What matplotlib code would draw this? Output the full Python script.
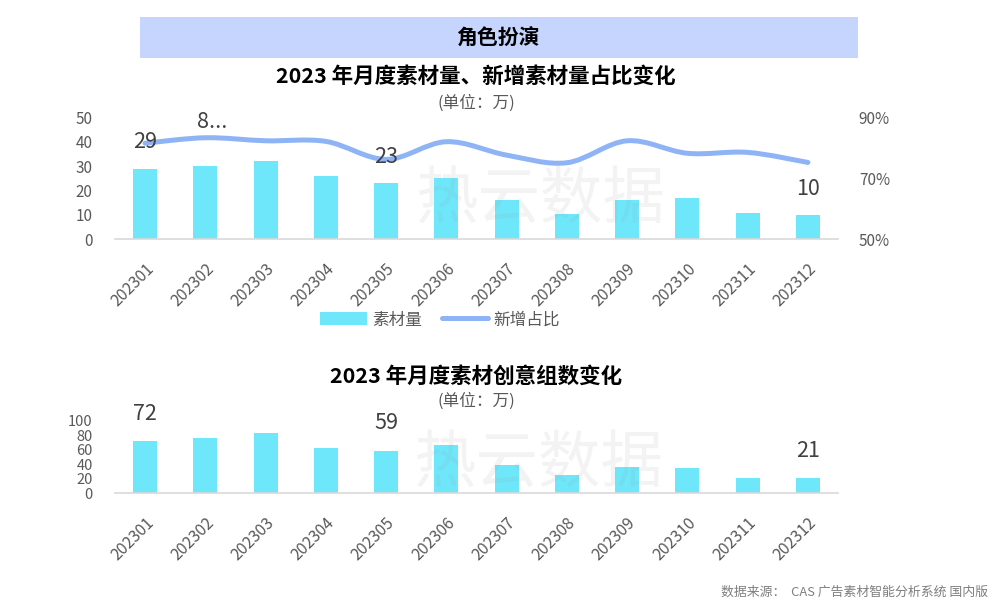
import matplotlib
matplotlib.use("Agg")
import matplotlib.pyplot as plt
import numpy as np
from matplotlib.path import Path
from matplotlib.patches import PathPatch, Rectangle
from matplotlib.lines import Line2D
from matplotlib.patches import Patch

plt.rcParams['font.family'] = ['Noto Sans CJK SC', 'DejaVu Sans']

months = ["202301", "202302", "202303", "202304", "202305", "202306",
          "202307", "202308", "202309", "202310", "202311", "202312"]
material = [29, 30, 32, 26, 23, 25, 16, 10.5, 16.3, 16.8, 10.7, 10]
new_share = [0.815, 0.833, 0.823, 0.821, 0.762, 0.820, 0.776, 0.751, 0.823, 0.782, 0.785, 0.752]
creative_groups = [72, 76, 83, 62.5, 59, 66, 39, 25, 36, 35, 21, 21]

BAR = "#6FE7FA"
LINE = "#8FB4F5"
TICK = "#595959"
W, H = 994, 614

fig = plt.figure(figsize=(W / 100, H / 100), dpi=100)


def fx(x):
    return x / W


def fy(y):
    return 1 - y / H


# banner
fig.patches.append(Rectangle((fx(140), fy(58)), fx(858) - fx(140), fy(17) - fy(58),
                             transform=fig.transFigure, facecolor="#C5D5FD", edgecolor="none", zorder=0))
fig.text(fx(498), fy(38), "角色扮演", ha="center", va="center", fontsize=15, fontweight="bold", color="#000000")
fig.text(fx(476), fy(76), "2023 年月度素材量、新增素材量占比变化", ha="center", va="center",
         fontsize=15.5, fontweight="bold", color="#000000")
fig.text(fx(476), fy(103), "(单位：万)", ha="center", va="center", fontsize=12, color=TICK)
fig.text(fx(476), fy(376), "2023 年月度素材创意组数变化", ha="center", va="center",
         fontsize=15.5, fontweight="bold", color="#000000")
fig.text(fx(476), fy(401), "(单位：万)", ha="center", va="center", fontsize=12, color=TICK)
fig.text(fx(988), fy(592), "数据来源：  CAS 广告素材智能分析系统 国内版", ha="right", va="center",
         fontsize=9.3, color="#7F7F7F")

# watermarks
for cx, cy in [(540, 201), (538, 465)]:
    fig.text(fx(cx), fy(cy), "热云数据", ha="center", va="center", fontsize=45,
             color="#9a9a9a", alpha=0.11, zorder=10)

x = np.arange(len(months))


def style_axis(ax):
    for s in ["top", "right", "left"]:
        ax.spines[s].set_visible(False)
    ax.spines["bottom"].set_color("#D9D9D9")
    ax.spines["bottom"].set_linewidth(1.2)
    ax.tick_params(axis="both", length=0, colors=TICK, labelsize=11)
    ax.set_xlim(-0.5, len(months) - 0.5)
    ax.set_xticks(x)
    ax.set_xticklabels(months, rotation=45, ha="right", rotation_mode="anchor")
    ax.tick_params(axis="x", pad=15, labelsize=11.5)
    ax.tick_params(axis="y", pad=16)
    ax.patch.set_alpha(0)


# ---- top chart
ax1 = fig.add_axes([fx(115), fy(239.3), fx(838) - fx(115), fy(117.3) - fy(239.3)])
ax1.bar(x, material, width=0.4, color=BAR, zorder=2)
ax1.set_ylim(0, 50)
ax1.set_yticks([0, 10, 20, 30, 40, 50])
style_axis(ax1)

ax2 = ax1.twinx()
ax2.set_ylim(0.5, 0.9)
ax2.set_yticks([0.5, 0.7, 0.9])
ax2.set_yticklabels(["50%", "70%", "90%"])
for s in ["top", "right", "left", "bottom"]:
    ax2.spines[s].set_visible(False)
ax2.tick_params(axis="y", length=0, colors=TICK, labelsize=11, pad=15)

# smooth line via Catmull-Rom -> cubic Bezier
pts = np.column_stack([x, new_share])
verts = [tuple(pts[0])]
codes = [Path.MOVETO]
for i in range(len(pts) - 1):
    p0 = pts[i - 1] if i > 0 else pts[i]
    p1 = pts[i]
    p2 = pts[i + 1]
    p3 = pts[i + 2] if i + 2 < len(pts) else pts[i + 1]
    c1 = p1 + (p2 - p0) / 6.0
    c2 = p2 - (p3 - p1) / 6.0
    verts += [tuple(c1), tuple(c2), tuple(p2)]
    codes += [Path.CURVE4] * 3
ax2.add_patch(PathPatch(Path(verts, codes), facecolor="none", edgecolor=LINE, lw=3.6,
                        capstyle="round", zorder=3))

lab_kw = dict(textcoords="offset points", ha="center", va="center", fontsize=15.5, color="#404040", zorder=5)
for i in [0, 4, 11]:
    ax2.annotate(f"{material[i]:g}", xy=(x[i], material[i]), xycoords=ax1.transData,
                 xytext=(0, 19), **lab_kw)
ax2.annotate("8...", xy=(x[1], new_share[1]), xytext=(5, 11.5), **lab_kw)

handles = [Patch(facecolor=BAR, edgecolor="none"),
           Line2D([0], [0], color=LINE, lw=3.6, solid_capstyle="round")]
fig.legend(handles, ["素材量", "新增占比"], loc="center", bbox_to_anchor=(fx(440), fy(320)),
           ncol=2, frameon=False, fontsize=12, labelcolor=TICK, handlelength=2.8,
           handleheight=0.8, handletextpad=0.3, columnspacing=1.2)

# ---- bottom chart
ax3 = fig.add_axes([fx(115), fy(493.3), fx(838) - fx(115), fy(420.8) - fy(493.3)])
ax3.bar(x, creative_groups, width=0.4, color=BAR, zorder=2)
ax3.set_ylim(0, 100)
ax3.set_yticks([0, 20, 40, 60, 80, 100])
style_axis(ax3)
ax3.tick_params(axis="y", labelsize=10.5)
for i in [0, 4, 11]:
    ax3.annotate(f"{creative_groups[i]:g}", xy=(x[i], creative_groups[i]), xytext=(0, 19.5), **lab_kw)

fig.savefig("out.png", dpi=100)
